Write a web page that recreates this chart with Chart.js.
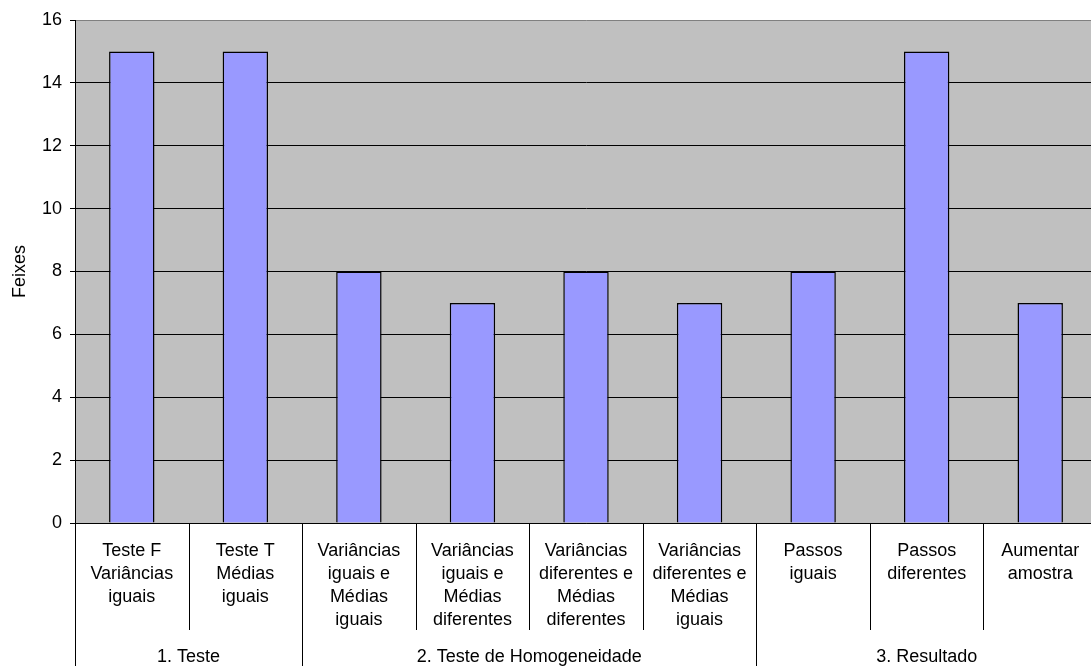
<!DOCTYPE html>
<html>
<head>
<meta charset="utf-8">
<script src="https://cdn.jsdelivr.net/npm/chart.js@4/dist/chart.umd.min.js"></script>
<style>
    html, body { margin: 0; padding: 0; background: #fff; overflow: hidden; }
    #grafico { display: block; }
</style>
</head>
<body>
<canvas id="grafico" width="1110" height="666"></canvas>
<script>
// Dados
const categorias = [
    ['Teste F', 'Variâncias', 'iguais'],
    ['Teste T', 'Médias', 'iguais'],
    ['Variâncias', 'iguais e', 'Médias', 'iguais'],
    ['Variâncias', 'iguais e', 'Médias', 'diferentes'],
    ['Variâncias', 'diferentes e', 'Médias', 'diferentes'],
    ['Variâncias', 'diferentes e', 'Médias', 'iguais'],
    ['Passos', 'iguais'],
    ['Passos', 'diferentes'],
    ['Aumentar', 'amostra']
];
const feixes = [15, 15, 8, 7, 8, 7, 8, 15, 7];
const grupos = ['1. Teste', '2. Teste de Homogeneidade', '3. Resultado'];
const tamanhoGrupos = [2, 4, 3];

const fonte = "'Liberation Sans', Arial, sans-serif";

// fundo cinza da área do gráfico
const fundo = {
    id: 'fundo',
    beforeDraw(chart) {
        const { ctx, chartArea: { left, top, width, height } } = chart;
        ctx.save();
        ctx.fillStyle = '#C0C0C0';
        ctx.fillRect(left, top, width, height);
        ctx.restore();
    }
};

// separadores das categorias e rótulos dos grupos
const eixoMultinivel = {
    id: 'eixoMultinivel',
    afterDraw(chart) {
        const { ctx, chartArea: { bottom }, scales: { x } } = chart;
        const meio = (x.getPixelForValue(1) - x.getPixelForValue(0)) / 2;
        const limite = i => i < categorias.length ? x.getPixelForValue(i) - meio : x.getPixelForValue(i - 1) + meio;

        // índices onde começa cada grupo
        const inicios = [0];
        tamanhoGrupos.forEach(n => inicios.push(inicios[inicios.length - 1] + n));

        ctx.save();
        ctx.strokeStyle = '#000';
        ctx.lineWidth = 1;
        for (let i = 0; i <= categorias.length; i++) {
            const px = Math.round(limite(i)) + 0.5;
            const fim = inicios.includes(i) ? chart.height : 630;
            ctx.beginPath();
            ctx.moveTo(px, bottom);
            ctx.lineTo(px, fim);
            ctx.stroke();
        }

        ctx.fillStyle = '#000';
        ctx.font = '18px ' + fonte;
        ctx.textAlign = 'center';
        ctx.textBaseline = 'middle';
        grupos.forEach((g, k) => {
            const cx = (limite(inicios[k]) + limite(inicios[k + 1])) / 2;
            ctx.fillText(g, cx, 657);
        });
        ctx.restore();
    }
};

new Chart(document.getElementById('grafico'), {
    type: 'bar',
    data: {
        labels: categorias,
        datasets: [{
            data: feixes,
            backgroundColor: '#9999FF',
            borderColor: '#000',
            borderWidth: 1.5,
            barPercentage: 0.4,
            categoryPercentage: 1
        }]
    },
    options: {
        responsive: false,
        animation: false,
        layout: {
            padding: { top: 20, right: 13, left: 0, bottom: 0 }
        },
        plugins: {
            legend: { display: false },
            tooltip: { enabled: false }
        },
        scales: {
            x: {
                grid: { display: false, drawTicks: false },
                border: { display: true, color: '#000', width: 1 },
                ticks: {
                    color: '#000',
                    padding: 17,
                    maxRotation: 0,
                    autoSkip: false,
                    font: { family: fonte, size: 18, lineHeight: 23 / 18 }
                },
                afterFit(scale) { scale.height = 143; }
            },
            y: {
                min: 0,
                max: 16,
                ticks: {
                    stepSize: 2,
                    color: '#000',
                    padding: 8,
                    font: { family: fonte, size: 18 }
                },
                grid: {
                    color: c => c.tick && c.tick.value === 16 ? '#808080' : '#000',
                    tickColor: '#000',
                    tickLength: 5,
                    lineWidth: 1
                },
                border: { display: true, color: '#000', width: 1 },
                title: {
                    display: true,
                    text: 'Feixes',
                    color: '#000',
                    padding: { top: 9, bottom: 0 },
                    font: { family: fonte, size: 18 }
                },
                afterFit(scale) { scale.width = 75; }
            }
        }
    },
    plugins: [fundo, eixoMultinivel]
});
</script>
</body>
</html>
